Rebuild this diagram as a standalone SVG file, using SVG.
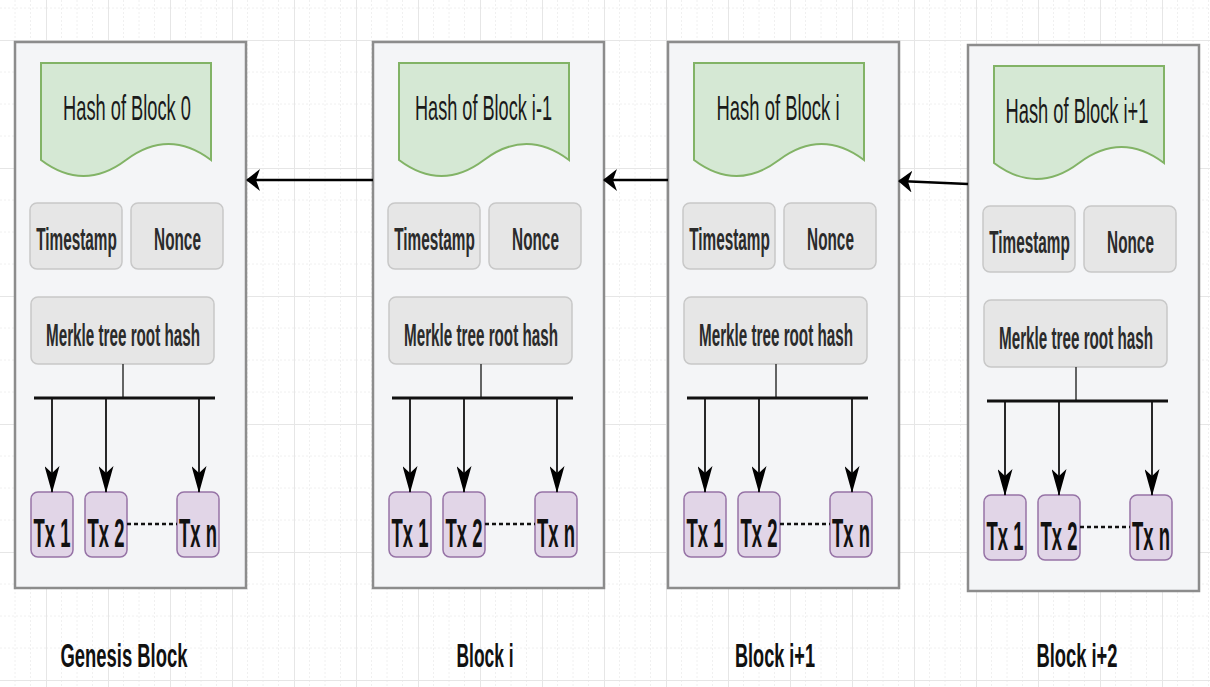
<svg xmlns="http://www.w3.org/2000/svg" width="1210" height="687" viewBox="0 0 1210 687">
  <style>
    .block { fill: #f4f5f7; stroke: #8c8c8c; stroke-width: 2.5; }
    .hash { fill: #d5e8d4; stroke: #82b366; stroke-width: 2; }
    .field { fill: #e6e6e6; stroke: #c8c8c8; stroke-width: 1.5; }
    .tx { fill: #e1d5e7; stroke: #9673a6; stroke-width: 1.5; }
    text { font-family: "Liberation Sans", Arial, sans-serif; text-anchor: middle; }
    .t-hash { font-size: 35px; fill: #1a1a1a; }
    .t-field { font-size: 31px; font-weight: bold; fill: #2b2b2b; }
    .t-tx { font-size: 41px; font-weight: bold; fill: #111; }
    .t-label { font-size: 33px; font-weight: bold; fill: #111; }
    .link { fill: none; stroke: #000; stroke-width: 2.5; marker-end: url(#head-h); }
    .stem { fill: none; stroke: #333; stroke-width: 1.5; }
    .bus { fill: none; stroke: #111; stroke-width: 3; }
    .down { fill: none; stroke: #111; stroke-width: 1.8; marker-end: url(#head-v); }
    .dots { fill: none; stroke: #111; stroke-width: 2.4; stroke-dasharray: 4 3; }
  </style>
  <defs>
    <pattern id="grid" patternUnits="userSpaceOnUse" x="46" y="40" width="62" height="128">
      <g stroke="#f0f0f0" stroke-width="1" stroke-dasharray="2 2" fill="none">
        <path d="M15.5,0V128M31,0V128M46.5,0V128"/>
        <path d="M0,32H62M0,64H62M0,96H62"/>
      </g>
      <path d="M0.5,0V128M0,0.5H62" stroke="#e6e6e6" stroke-width="1" fill="none"/>
    </pattern>
    <!-- arrowhead for the horizontal chain links -->
    <marker id="head-h" markerUnits="userSpaceOnUse" viewBox="0 0 14 22" markerWidth="14" markerHeight="22" refX="13" refY="11" orient="auto">
      <path d="M0,0L14,11L0,22L4,11Z" fill="#000"/>
    </marker>
    <!-- arrowhead for the vertical transaction links -->
    <marker id="head-v" markerUnits="userSpaceOnUse" viewBox="0 0 27 15" markerWidth="27" markerHeight="15" refX="26" refY="7.5" orient="auto">
      <path d="M0,0L27,7.5L0,15L7,7.5Z" fill="#000"/>
    </marker>
  </defs>

  <rect width="1210" height="687" fill="#ffffff"/>
  <rect width="1210" height="687" fill="url(#grid)"/>

  <!-- Genesis block -->
  <g id="block-0" transform="translate(15,42)">
    <rect class="block" x="0" y="0" width="231" height="546"/>
    <g id="block-0-hash">
      <path class="hash" d="M26,21H196V118Q153.5,86 111,118Q68.5,150 26,118Z"/>
      <text class="t-hash" transform="translate(112,78) scale(0.522,1)">Hash of Block 0</text>
    </g>
    <g id="block-0-timestamp">
      <rect class="field" x="15" y="161" width="92" height="66" rx="7"/>
      <text class="t-field" transform="translate(61.5,208) scale(0.495,1)">Timestamp</text>
    </g>
    <g id="block-0-nonce">
      <rect class="field" x="116" y="161" width="92" height="66" rx="7"/>
      <text class="t-field" transform="translate(162.5,208) scale(0.495,1)">Nonce</text>
    </g>
    <g id="block-0-merkle">
      <rect class="field" x="16" y="255" width="183" height="67" rx="7"/>
      <text class="t-field" transform="translate(108,304) scale(0.491,1)">Merkle tree root hash</text>
    </g>
    <g id="block-0-tx1">
      <rect class="tx" x="16" y="450" width="42" height="65" rx="7"/>
      <text class="t-tx" transform="translate(37,505) scale(0.45,1)">Tx 1</text>
    </g>
    <g id="block-0-tx2">
      <rect class="tx" x="70" y="450" width="42" height="65" rx="7"/>
      <text class="t-tx" transform="translate(91,505) scale(0.45,1)">Tx 2</text>
    </g>
    <g id="block-0-txn">
      <rect class="tx" x="162" y="450" width="42" height="65" rx="7"/>
      <text class="t-tx" transform="translate(183,505) scale(0.45,1)">Tx n</text>
    </g>
  </g>

  <!-- Block i -->
  <g id="block-1" transform="translate(373,42)">
    <rect class="block" x="0" y="0" width="231" height="546"/>
    <g id="block-1-hash">
      <path class="hash" d="M26,21H196V118Q153.5,86 111,118Q68.5,150 26,118Z"/>
      <text class="t-hash" transform="translate(110.5,78) scale(0.518,1)">Hash of Block i-1</text>
    </g>
    <g id="block-1-timestamp">
      <rect class="field" x="15" y="161" width="92" height="66" rx="7"/>
      <text class="t-field" transform="translate(61.5,208) scale(0.495,1)">Timestamp</text>
    </g>
    <g id="block-1-nonce">
      <rect class="field" x="116" y="161" width="92" height="66" rx="7"/>
      <text class="t-field" transform="translate(162.5,208) scale(0.495,1)">Nonce</text>
    </g>
    <g id="block-1-merkle">
      <rect class="field" x="16" y="255" width="183" height="67" rx="7"/>
      <text class="t-field" transform="translate(108,304) scale(0.491,1)">Merkle tree root hash</text>
    </g>
    <g id="block-1-tx1">
      <rect class="tx" x="16" y="450" width="42" height="65" rx="7"/>
      <text class="t-tx" transform="translate(37,505) scale(0.45,1)">Tx 1</text>
    </g>
    <g id="block-1-tx2">
      <rect class="tx" x="70" y="450" width="42" height="65" rx="7"/>
      <text class="t-tx" transform="translate(91,505) scale(0.45,1)">Tx 2</text>
    </g>
    <g id="block-1-txn">
      <rect class="tx" x="162" y="450" width="42" height="65" rx="7"/>
      <text class="t-tx" transform="translate(183,505) scale(0.45,1)">Tx n</text>
    </g>
  </g>

  <!-- Block i+1 -->
  <g id="block-2" transform="translate(668,42)">
    <rect class="block" x="0" y="0" width="231" height="546"/>
    <g id="block-2-hash">
      <path class="hash" d="M26,21H196V118Q153.5,86 111,118Q68.5,150 26,118Z"/>
      <text class="t-hash" transform="translate(110,78) scale(0.527,1)">Hash of Block i</text>
    </g>
    <g id="block-2-timestamp">
      <rect class="field" x="15" y="161" width="92" height="66" rx="7"/>
      <text class="t-field" transform="translate(61.5,208) scale(0.495,1)">Timestamp</text>
    </g>
    <g id="block-2-nonce">
      <rect class="field" x="116" y="161" width="92" height="66" rx="7"/>
      <text class="t-field" transform="translate(162.5,208) scale(0.495,1)">Nonce</text>
    </g>
    <g id="block-2-merkle">
      <rect class="field" x="16" y="255" width="183" height="67" rx="7"/>
      <text class="t-field" transform="translate(108,304) scale(0.491,1)">Merkle tree root hash</text>
    </g>
    <g id="block-2-tx1">
      <rect class="tx" x="16" y="450" width="42" height="65" rx="7"/>
      <text class="t-tx" transform="translate(37,505) scale(0.45,1)">Tx 1</text>
    </g>
    <g id="block-2-tx2">
      <rect class="tx" x="70" y="450" width="42" height="65" rx="7"/>
      <text class="t-tx" transform="translate(91,505) scale(0.45,1)">Tx 2</text>
    </g>
    <g id="block-2-txn">
      <rect class="tx" x="162" y="450" width="42" height="65" rx="7"/>
      <text class="t-tx" transform="translate(183,505) scale(0.45,1)">Tx n</text>
    </g>
  </g>

  <!-- Block i+2 -->
  <g id="block-3" transform="translate(968,45)">
    <rect class="block" x="0" y="0" width="231" height="546"/>
    <g id="block-3-hash">
      <path class="hash" d="M26,21H196V118Q153.5,86 111,118Q68.5,150 26,118Z"/>
      <text class="t-hash" transform="translate(109,78) scale(0.523,1)">Hash of Block i+1</text>
    </g>
    <g id="block-3-timestamp">
      <rect class="field" x="15" y="161" width="92" height="66" rx="7"/>
      <text class="t-field" transform="translate(61.5,208) scale(0.495,1)">Timestamp</text>
    </g>
    <g id="block-3-nonce">
      <rect class="field" x="116" y="161" width="92" height="66" rx="7"/>
      <text class="t-field" transform="translate(162.5,208) scale(0.495,1)">Nonce</text>
    </g>
    <g id="block-3-merkle">
      <rect class="field" x="16" y="255" width="183" height="67" rx="7"/>
      <text class="t-field" transform="translate(108,304) scale(0.491,1)">Merkle tree root hash</text>
    </g>
    <g id="block-3-tx1">
      <rect class="tx" x="16" y="450" width="42" height="65" rx="7"/>
      <text class="t-tx" transform="translate(37,505) scale(0.45,1)">Tx 1</text>
    </g>
    <g id="block-3-tx2">
      <rect class="tx" x="70" y="450" width="42" height="65" rx="7"/>
      <text class="t-tx" transform="translate(91,505) scale(0.45,1)">Tx 2</text>
    </g>
    <g id="block-3-txn">
      <rect class="tx" x="162" y="450" width="42" height="65" rx="7"/>
      <text class="t-tx" transform="translate(183,505) scale(0.45,1)">Tx n</text>
    </g>
  </g>

  <!-- links: chain pointers between blocks, and root-to-transaction fan-out inside each block -->
  <g id="connectors">
    <path class="link" d="M373,180H247"/>
    <path class="link" d="M668,180H604"/>
    <path class="link" d="M968,184L899,181"/>

    <g transform="translate(15,42)">
      <path class="stem" d="M108,322V356"/>
      <path class="bus" d="M19,356H200"/>
      <path class="down" d="M37,356V450"/>
      <path class="down" d="M91,356V450"/>
      <path class="down" d="M184,356V450"/>
      <path class="dots" d="M112,482H162"/>
    </g>
    <g transform="translate(373,42)">
      <path class="stem" d="M108,322V356"/>
      <path class="bus" d="M19,356H200"/>
      <path class="down" d="M37,356V450"/>
      <path class="down" d="M91,356V450"/>
      <path class="down" d="M184,356V450"/>
      <path class="dots" d="M112,482H162"/>
    </g>
    <g transform="translate(668,42)">
      <path class="stem" d="M108,322V356"/>
      <path class="bus" d="M19,356H200"/>
      <path class="down" d="M37,356V450"/>
      <path class="down" d="M91,356V450"/>
      <path class="down" d="M184,356V450"/>
      <path class="dots" d="M112,482H162"/>
    </g>
    <g transform="translate(968,45)">
      <path class="stem" d="M108,322V356"/>
      <path class="bus" d="M19,356H200"/>
      <path class="down" d="M37,356V450"/>
      <path class="down" d="M91,356V450"/>
      <path class="down" d="M184,356V450"/>
      <path class="dots" d="M112,482H162"/>
    </g>
  </g>

  <!-- captions under each block -->
  <g id="labels">
    <text class="t-label" transform="translate(124,667) scale(0.558,1)">Genesis Block</text>
    <text class="t-label" transform="translate(485,667) scale(0.527,1)">Block i</text>
    <text class="t-label" transform="translate(775,667) scale(0.549,1)">Block i+1</text>
    <text class="t-label" transform="translate(1077,667) scale(0.556,1)">Block i+2</text>
  </g>
</svg>
